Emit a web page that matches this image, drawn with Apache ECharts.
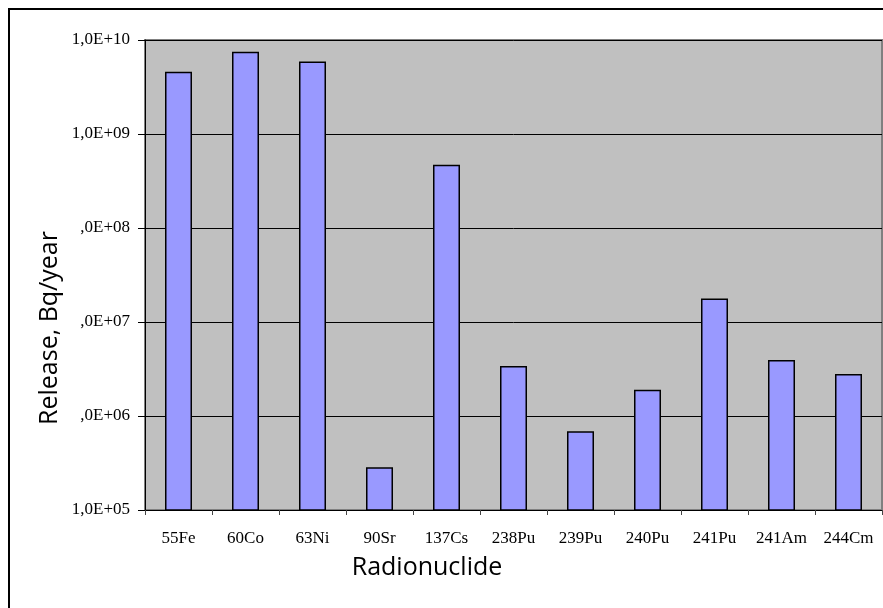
<!DOCTYPE html>
<html>
<head>
<meta charset="utf-8">
<script src="https://cdn.jsdelivr.net/npm/echarts@6/dist/echarts.min.js"></script>
<style>html,body{margin:0;padding:0;background:#fff}#c{width:883px;height:608px}</style>
</head>
<body>
<div id="c"></div>
<script>
const categories = ["55Fe","60Co","63Ni","90Sr","137Cs","238Pu","239Pu","240Pu","241Pu","241Am","244Cm"];
const releaseValues = [4.6e9, 7.5e9, 5.9e9, 2.85e5, 4.7e8, 3.4e6, 6.9e5, 1.9e6, 1.78e7, 3.95e6, 2.8e6];
const yTickValues = [1e5, 1e6, 1e7, 1e8, 1e9, 1e10];
const yTickLabels = ["1,0E+05", ",0E+06", ",0E+07", ",0E+08", "1,0E+09", "1,0E+10"];
const yAxisTitle = "Release, Bq/year";
const xAxisTitle = "Radionuclide";

const chart = echarts.init(document.getElementById('c'), null, {renderer: 'canvas'});
const serif = '"Liberation Serif","Times New Roman",serif';
const sans = '"Open Sans",Lato,sans-serif';
chart.setOption({
  animation: false,
  backgroundColor: '#ffffff',
  grid: {left: 145, right: 1, top: 40, bottom: 98, show: true, backgroundColor: '#C0C0C0', borderColor: '#808080', borderWidth: 2},
  xAxis: {
    type: 'category',
    data: categories,
    boundaryGap: true,
    axisLine: {show: true, lineStyle: {color: '#000', width: 1}},
    axisTick: {show: true, length: 5, lineStyle: {color: '#444'}, alignWithLabel: false},
    axisLabel: {color: '#000', fontFamily: serif, fontSize: 17, margin: 20, interval: 0},
    splitLine: {show: false}
  },
  yAxis: {
    type: 'log',
    logBase: 10,
    min: 1e5,
    max: 1e10,
    axisLine: {show: true, lineStyle: {color: '#000', width: 1}},
    axisTick: {show: true, length: 7, lineStyle: {color: '#000'}},
    axisLabel: {
      color: '#000', fontFamily: serif, fontSize: 17, margin: 15,
      formatter: function (v) {
        for (let i = 0; i < yTickValues.length; i++) {
          if (Math.abs(Math.log10(v) - Math.log10(yTickValues[i])) < 1e-6) return yTickLabels[i];
        }
        return '';
      }
    },
    splitLine: {show: true, lineStyle: {color: '#000', width: 1}},
    minorTick: {show: false}
  },
  series: [{
    type: 'bar',
    data: releaseValues,
    barWidth: 27,
    itemStyle: {color: '#9999FF', borderColor: '#000', borderWidth: 1.5}
  }],
  graphic: [
    {type: 'rect', shape: {x: 9, y: 9, width: 1000, height: 1000}, style: {fill: 'none', stroke: '#000', lineWidth: 2}, silent: true, z: 100},
    {type: 'text', x: 50, y: 328, rotation: Math.PI / 2, style: {text: yAxisTitle, font: '25px ' + sans, fill: '#000', textAlign: 'center', textVerticalAlign: 'middle'}},
    {type: 'text', x: 427, y: 568, style: {text: xAxisTitle, font: '25px ' + sans, fill: '#000', textAlign: 'center', textVerticalAlign: 'middle'}}
  ]
});
</script>
</body>
</html>
